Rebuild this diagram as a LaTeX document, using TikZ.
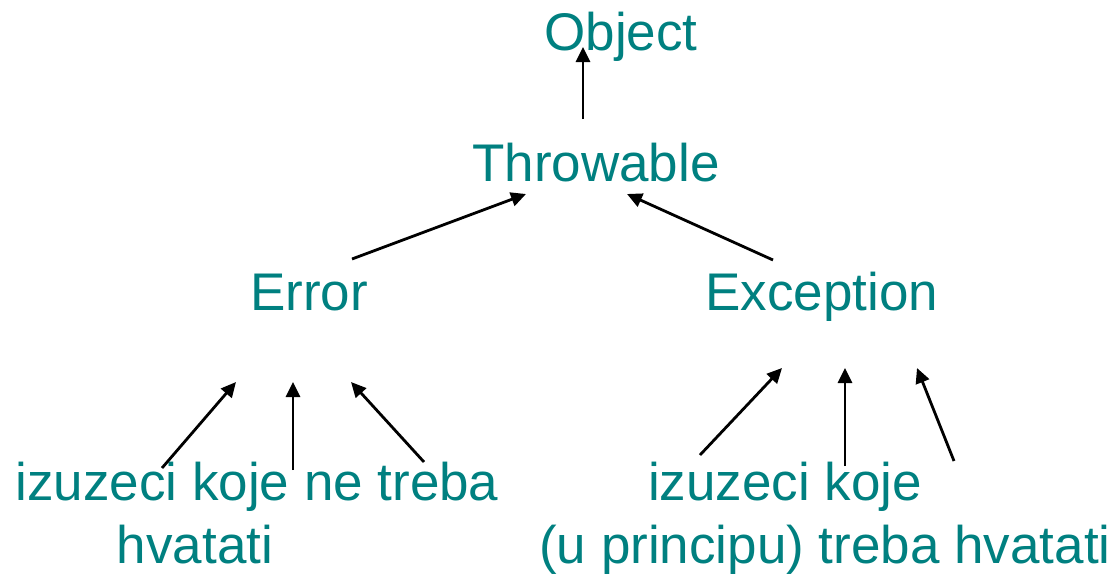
\documentclass[tikz,border=0pt]{standalone}
\usepackage{fontspec}
\setmainfont{Liberation Sans}
\usetikzlibrary{arrows.meta}
\definecolor{teal}{HTML}{008080}
\begin{document}
\begin{tikzpicture}[x=1pt,y=-1pt,
  lbl/.style={text=teal,font=\fontsize{53}{63}\selectfont,inner sep=0pt,anchor=base},
  arr/.style={line width=2.8pt,-{Triangle[length=15pt,width=14pt]}}]
\useasboundingbox (0,0) rectangle (1115,574);
\node[lbl] (obj) at (621,50) {Object};
\node[lbl] (thr) at (596,181) {Throwable};
\node[lbl] (err) at (309,310) {Error};
\node[lbl] (exc) at (822,310) {Exception};
\node[lbl] (l1) at (257,500) {izuzeci koje ne treba};
\node[lbl] (l2) at (195,563) {hvatati};
\node[lbl] (r1) at (785,500) {izuzeci koje};
\node[lbl] (r2) at (825,563) {(u principu) treba hvatati};
% endpoints
\coordinate (o1) at (583,119); \coordinate (o2) at (583,47);
\coordinate (e1) at (352,259); \coordinate (e2) at (526,194);
\coordinate (x1) at (773,260); \coordinate (x2) at (627,194);
\coordinate (a1) at (162,468); \coordinate (a2) at (236,382);
\coordinate (b1) at (293,470); \coordinate (b2) at (293,382);
\coordinate (c1) at (424,462); \coordinate (c2) at (351,382);
\coordinate (d1) at (700,455); \coordinate (d2) at (782,368);
\coordinate (f1) at (845,466); \coordinate (f2) at (845,368);
\coordinate (g1) at (954,461); \coordinate (g2) at (917,368);
\draw[arr] (o1) -- (o2);
\draw[arr] (e1) -- (e2);
\draw[arr] (x1) -- (x2);
\draw[arr] (a1) -- (a2);
\draw[arr] (b1) -- (b2);
\draw[arr] (c1) -- (c2);
\draw[arr] (d1) -- (d2);
\draw[arr] (f1) -- (f2);
\draw[arr] (g1) -- (g2);
\end{tikzpicture}
\end{document}
